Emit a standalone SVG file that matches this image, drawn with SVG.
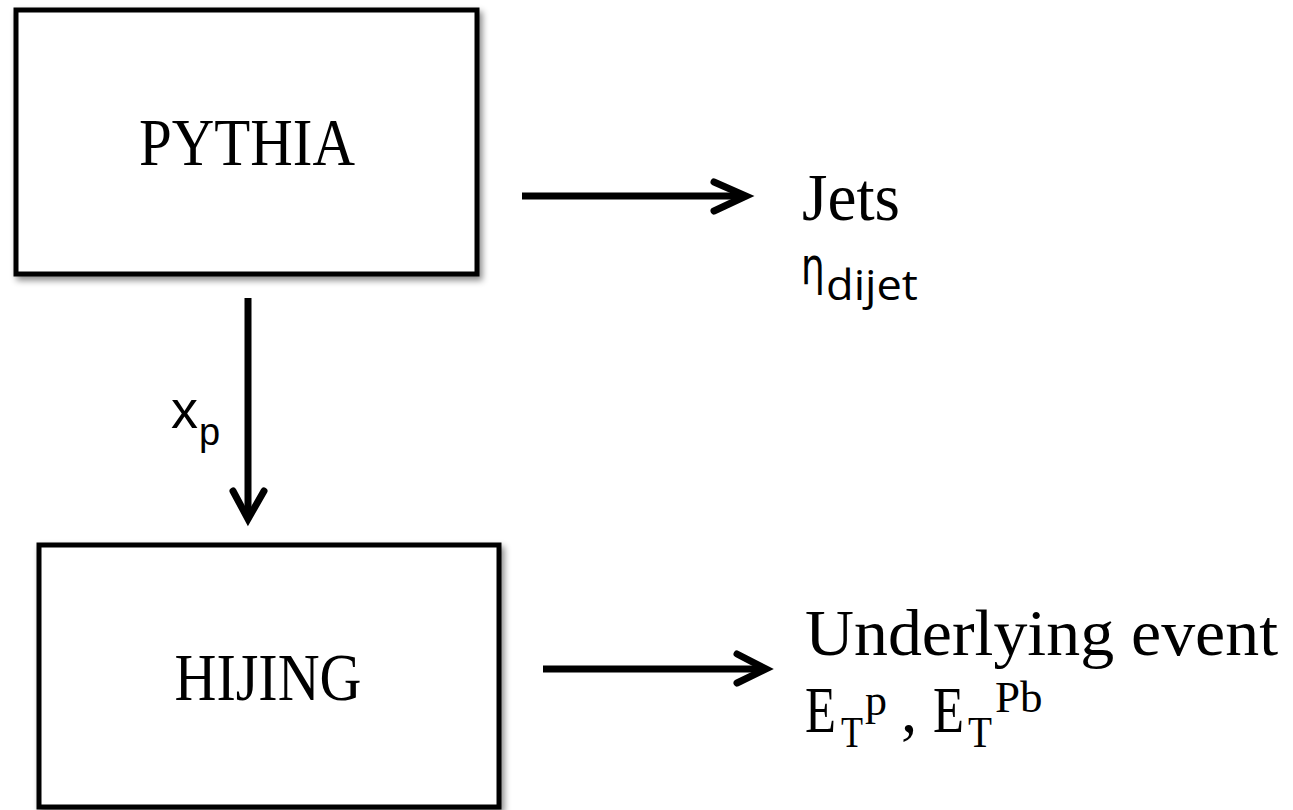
<svg xmlns="http://www.w3.org/2000/svg" width="1293" height="810" viewBox="0 0 1293 810">
<defs>
<filter id="sh" x="-10%" y="-10%" width="130%" height="130%">
<feDropShadow dx="3" dy="4" stdDeviation="3" flood-color="#000" flood-opacity="0.45"/>
</filter>
<style>
.box{fill:#fff;stroke:#000;stroke-width:5;filter:url(#sh)}
.serif{font-family:"Liberation Serif","DejaVu Serif",serif;fill:#000}
.sans{font-family:"Liberation Sans",Arial,sans-serif;fill:#000}
.conn{fill:none;stroke:#000;stroke-width:7;stroke-linecap:butt}
.head{fill:none;stroke:#000;stroke-width:7;stroke-linecap:round;stroke-linejoin:miter}
</style>
</defs>
<rect width="1293" height="810" fill="#fff"/>
<g id="pythia">
<rect class="box" x="16" y="10" width="461" height="264"/>
<text class="serif" x="247" y="165" font-size="68" text-anchor="middle" textLength="216" lengthAdjust="spacingAndGlyphs">PYTHIA</text>
</g>
<g id="hijing">
<rect class="box" x="39" y="545" width="460" height="262"/>
<text class="serif" x="268" y="700" font-size="67" text-anchor="middle" textLength="187" lengthAdjust="spacingAndGlyphs">HIJING</text>
</g>
<g id="jets">
<text class="serif" x="802" y="220" font-size="68" textLength="98" lengthAdjust="spacingAndGlyphs">Jets</text>
<text transform="translate(801,284) scale(0.72,1)" font-size="52" font-family="'DejaVu Sans',sans-serif">η</text>
<text x="826" y="300" font-size="42" font-family="'Open Sans','Liberation Sans',sans-serif" textLength="92" lengthAdjust="spacingAndGlyphs">dijet</text>
</g>
<g id="underlying">
<text class="serif" x="805" y="655" font-size="65" textLength="473" lengthAdjust="spacingAndGlyphs">Underlying event</text>
<text class="serif" x="805" y="732" font-size="65" textLength="31" lengthAdjust="spacingAndGlyphs">E</text>
<text class="serif" x="841" y="747" font-size="44" textLength="22" lengthAdjust="spacingAndGlyphs">T</text>
<text class="serif" x="865" y="715" font-size="44">p</text>
<text class="serif" x="901" y="732" font-size="65">,</text>
<text class="serif" x="933" y="732" font-size="65" textLength="31" lengthAdjust="spacingAndGlyphs">E</text>
<text class="serif" x="968" y="747" font-size="44" textLength="24" lengthAdjust="spacingAndGlyphs">T</text>
<text class="serif" x="995" y="712" font-size="45">Pb</text>
</g>
<g id="connectors">
<line class="conn" x1="522" y1="196" x2="744" y2="196"/>
<polyline class="head" points="714,182 746,196 714,211"/>
<line class="conn" x1="248" y1="298" x2="248" y2="517"/>
<polyline class="head" points="233,491 248,519 264,491"/>
<line class="conn" x1="543" y1="669" x2="764" y2="669"/>
<polyline class="head" points="737,654 766,669 737,683"/>
<text class="sans" x="171" y="428" font-size="54">x</text>
<text class="sans" x="199" y="445" font-size="38">p</text>
</g>
</svg>
